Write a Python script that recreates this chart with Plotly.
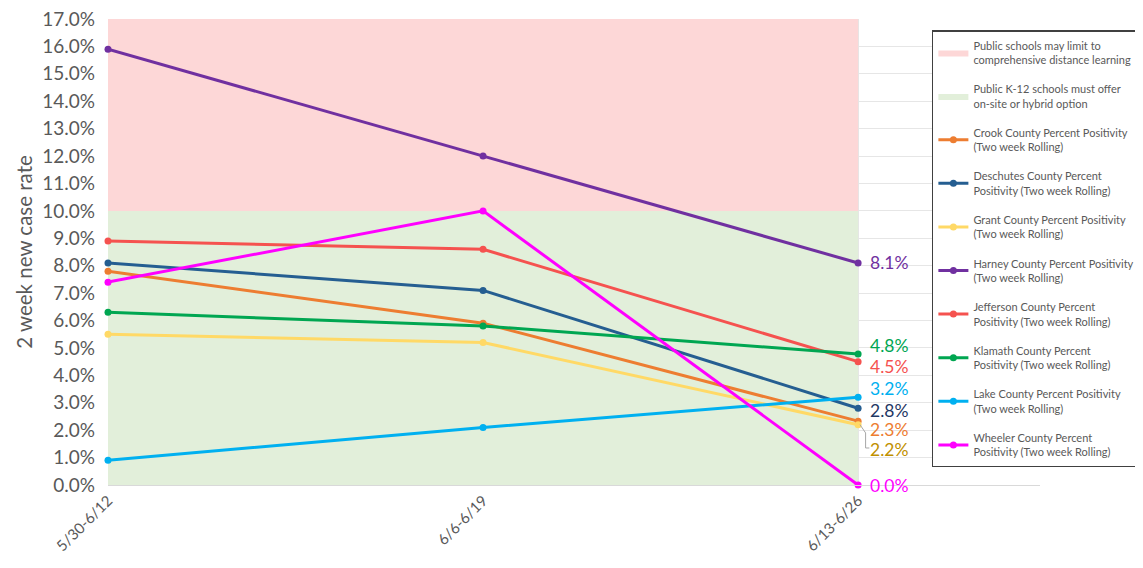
import plotly.graph_objects as go

categories = ["5/30-6/12", "6/6-6/19", "6/13-6/26"]
crook = [7.8, 5.9, 2.33]
deschutes = [8.1, 7.1, 2.8]
grant = [5.5, 5.2, 2.2]
harney = [15.9, 12.0, 8.1]
jefferson = [8.9, 8.6, 4.5]
klamath = [6.3, 5.8, 4.78]
lake = [0.9, 2.1, 3.2]
wheeler = [7.4, 10.0, 0.0]
band_limit = [0, 10, 17]

series = [
    ("Crook County Percent Positivity<br>(Two week Rolling)", crook, "#ED7D31", "#ED7D31", -8),
    ("Deschutes County Percent<br>Positivity (Two week Rolling)", deschutes, "#255E91", "#1F3864", -2),
    ("Grant County Percent Positivity<br>(Two week Rolling)", grant, "#FFD966", "#BF9000", -25),
    ("Harney County Percent Positivity<br>(Two week Rolling)", harney, "#7030A0", "#7030A0", 0),
    ("Jefferson County Percent<br>Positivity (Two week Rolling)", jefferson, "#F5524F", "#F5524F", -5),
    ("Klamath County Percent<br>Positivity (Two week Rolling)", klamath, "#00A651", "#00A651", 8),
    ("Lake County Percent Positivity<br>(Two week Rolling)", lake, "#00B0F0", "#00B0F0", 9),
    ("Wheeler County Percent<br>Positivity (Two week Rolling)", wheeler, "#FF00FF", "#FF00FF", 0),
]

fig = go.Figure()
xs = [0, 2, 2, 0, 0]
fig.add_trace(go.Scatter(
    x=xs, y=[band_limit[1], band_limit[1], band_limit[2], band_limit[2], band_limit[1]],
    fill="toself", fillcolor="#FDD7D7", line=dict(width=0), mode="lines",
    name="Public schools may limit to<br>comprehensive distance learning",
    legendgroup="a", hoverinfo="skip"))
fig.add_trace(go.Scatter(
    x=xs, y=[band_limit[0], band_limit[0], band_limit[1], band_limit[1], band_limit[0]],
    fill="toself", fillcolor="#E2EFDA", line=dict(width=0), mode="lines",
    name="Public K-12 schools must offer<br>on-site or hybrid option",
    legendgroup="b", hoverinfo="skip"))

for i, (name, vals, col, lcol, ysh) in enumerate(series):
    fig.add_trace(go.Scatter(
        x=[0, 1, 2], y=vals, mode="lines+markers", name=name,
        line=dict(color=col, width=3), marker=dict(color=col, size=7),
        cliponaxis=False, legendgroup="s%d" % i))
    fig.add_annotation(
        x=2, y=vals[-1], text="%.1f%%" % vals[-1], showarrow=False,
        xanchor="left", xshift=10, yshift=ysh,
        font=dict(family="Lato", size=17.5, color=lcol))

# leader line for the shifted 2.2% label
fig.add_shape(type="path", xref="x", yref="y",
              path="M 2.005,%f L 2.02,%f L 2.02,%f L 2.03,%f" % (grant[-1], grant[-1] - 0.3, grant[-1] - 0.85, grant[-1] - 0.85),
              line=dict(color="#A6A6A6", width=1))

fig.update_layout(
    width=1135, height=560,
    margin=dict(l=100, r=103, t=11, b=83, autoexpand=False),
    paper_bgcolor="white", plot_bgcolor="white",
    font=dict(family="Lato", color="#595959"),
    legend=dict(
        x=0.884, y=0.976, xanchor="left", yanchor="top",
        bgcolor="white", bordercolor="#404040", borderwidth=1.5,
        font=dict(size=11, color="#595959"), tracegroupgap=12,
        itemwidth=30),
    xaxis=dict(
        tickvals=[0, 1, 2], ticktext=categories, range=[0, 2.485],
        tickangle=-45, tickfont=dict(size=15, color="#595959"),
        showgrid=True, gridcolor="#E6E6E6", zeroline=False,
        showline=True, linecolor="#D9D9D9", ticks=""),
    yaxis=dict(
        range=[0, 17], dtick=1, tickformat=".1f", ticksuffix="%",
        tickfont=dict(size=19, color="#595959"), ticklabelstandoff=12,
        ticklabeloverflow="allow",
        title=dict(text="2 week new case rate", font=dict(size=20.5, color="#595959"), standoff=4),
        showgrid=True, gridcolor="#E6E6E6", zeroline=False, ticks=""),
)

fig.write_html("out.html")
